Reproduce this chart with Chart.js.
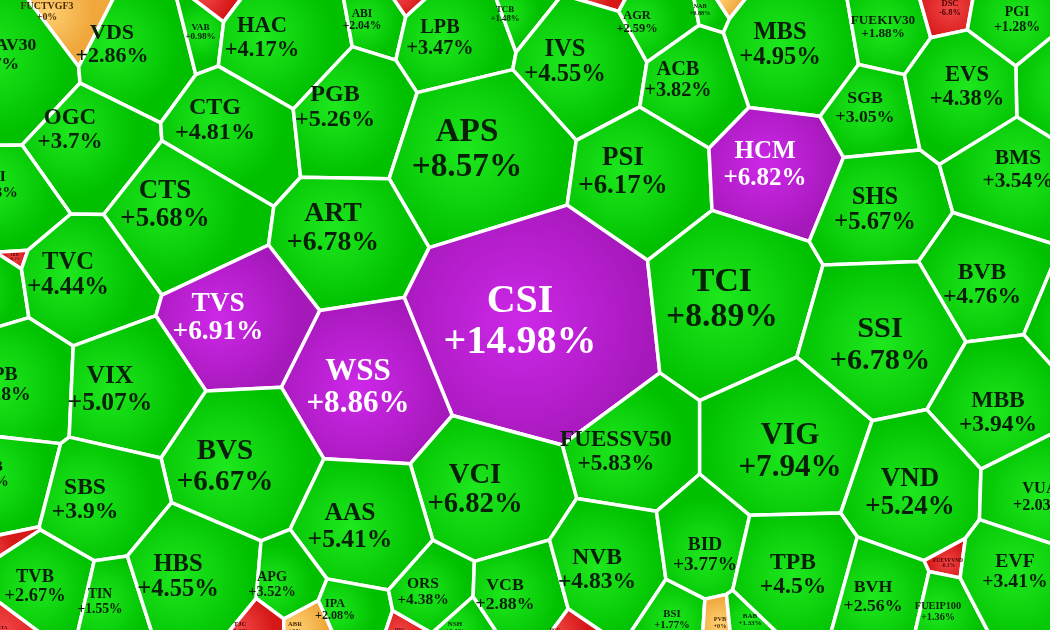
<!DOCTYPE html>
<html>
<head>
<meta charset="utf-8">
<script src="https://cdn.jsdelivr.net/npm/chart.js@4.4.1/dist/chart.umd.min.js"></script>
<style>
  html, body { margin: 0; padding: 0; background: #fff; }
  #wrap { width: 1050px; height: 630px; position: relative; }
</style>
</head>
<body>
<div id="wrap"><canvas id="heat"></canvas></div>
<script>
// stock codes, % change, traded volume (cell weight) and layout seeds
const codes = [
  'FUCTVGF3','FUEMAV30','VDS','VAB','DIG','HAC','ABI','TCH','LPB','TCB',
  'FPT','IVS','AGR','NAB','VRE','MBS','FUEKIV30','DSC','PGI','HPG',
  'OGC','CTG','PGB','APS','ACB','PSI','HCM','SGB','EVS','TVI',
  'HHS','PVC','CTS','ART','TVC','TVS','CSI','TCI','SHS','BMS',
  'BVB','VGC','SSI','MBB','VPB','VIX','WSS','FUESSV50','VIG','SHB',
  'BVS','VCI','VND','VUA','SBS','AAS','PVS','TVB','ITA','TIN',
  'HBS','APG','TJC','ABR','IPA','HDG','ORS','NSH','VCB','BCG',
  'NVB','BID','BSI','PVB','BAB','TPB','BVH','FUEVFVND','FUEIP100','EVF'
];
const changes = [
  0, 1.67, 2.86, 0.98, -0.5, 4.17, 2.04, -0.4, 3.47, 1.48,
  -0.3, 4.55, 2.59, 0.88, 0, 4.95, 1.88, -6.8, 1.28, 2.1,
  3.7, 4.81, 5.26, 8.57, 3.82, 6.17, 6.82, 3.05, 4.38, 2.83,
  -0.5, 1.9, 5.68, 6.78, 4.44, 6.91, 14.98, 8.89, 5.67, 3.54,
  4.76, 2.5, 6.78, 3.94, 2.28, 5.07, 8.86, 5.83, 7.94, 2.9,
  6.67, 6.82, 5.24, 2.03, 3.9, 5.41, -0.8, 2.67, -1, 1.55,
  4.55, 3.52, -1.2, 0, 2.08, -0.6, 4.38, 1.1, 2.88, -0.5,
  4.83, 3.77, 1.77, 0, 1.33, 4.5, 2.56, -0.3, 1.36, 3.41
];
const volume = [
  2800, 8000, 10000, 2200, 500, 10500, 2800, 250, 8500, 1600,
  250, 12500, 3200, 800, 250, 12500, 4800, 1500, 4000, 2500,
  11000, 12000, 12000, 23000, 8500, 15000, 13000, 6500, 10500, 5000,
  300, 1500, 15000, 16000, 12500, 15500, 43500, 23500, 12500, 9500,
  11500, 1200, 19000, 11500, 8000, 13500, 20000, 13000, 20000, 4500,
  17500, 17000, 15000, 5500, 11500, 13500, 500, 7000, 500, 3800,
  12500, 4200, 1000, 900, 3000, 400, 5000, 1000, 6500, 500,
  11500, 8000, 2400, 800, 1000, 11500, 6500, 900, 2800, 8000
];
const seedX = [
  47, -10, 112, 180, 205, 262, 362, 400, 440, 505,
  585, 565, 637, 700, 720, 780, 883, 950, 1017, 1070,
  70, 215, 335, 467, 678, 623, 765, 865, 967, -8,
  -4, -30, 165, 333, 68, 218, 520, 722, 875, 1018,
  982, 1090, 880, 998, -2, 110, 358, 616, 790, -12,
  225, 475, 910, 1040, 85, 350, 0, 35, 3, 100,
  178, 272, 240, 295, 335, 400, 423, 455, 505, 555,
  597, 705, 672, 720, 750, 793, 873, 948, 938, 1015
];
const seedY = [
  12, 55, 45, 28, -5, 38, 20, -6, 38, 14,
  -6, 62, 22, 10, -3, 45, 27, 8, 20, 85,
  130, 120, 107, 150, 80, 172, 165, 108, 87, 185,
  250, 290, 205, 228, 275, 318, 322, 300, 210, 170,
  285, 330, 345, 413, 385, 390, 388, 452, 452, 475,
  467, 490, 493, 497, 500, 527, 533, 587, 630, 602,
  577, 585, 628, 628, 610, 632, 592, 628, 595, 632,
  570, 555, 620, 623, 620, 575, 597, 563, 612, 572
];
// codes that hit the ceiling price (purple)
const ceilingCodes = ['CSI', 'WSS', 'TVS', 'HCM'];

function clipHalf(poly, ax, ay, c) {
  const out = [];
  for (let k = 0; k < poly.length; k++) {
    const p = poly[k], q = poly[(k + 1) % poly.length];
    const dp = ax * p[0] + ay * p[1] - c;
    const dq = ax * q[0] + ay * q[1] - c;
    if (dp <= 0) out.push(p);
    if ((dp < 0 && dq > 0) || (dp > 0 && dq < 0)) {
      const t = dp / (dp - dq);
      out.push([p[0] + t * (q[0] - p[0]), p[1] + t * (q[1] - p[1])]);
    }
  }
  return out;
}

function powerCells(pts, w, box) {
  return pts.map((s, i) => {
    let poly = box.slice();
    for (let j = 0; j < pts.length && poly.length; j++) {
      if (j === i) continue;
      const t = pts[j];
      const ax = t[0] - s[0], ay = t[1] - s[1];
      if (ax === 0 && ay === 0) continue;
      const c = (t[0] * t[0] + t[1] * t[1] - s[0] * s[0] - s[1] * s[1] - w[j] + w[i]) / 2;
      poly = clipHalf(poly, ax, ay, c);
    }
    return poly;
  });
}

function clipRect(poly, a) {
  let p = clipHalf(poly, -1, 0, -a.left);
  p = clipHalf(p, 1, 0, a.right);
  p = clipHalf(p, 0, -1, -a.top);
  return clipHalf(p, 0, 1, a.bottom);
}

function area(poly) {
  let s = 0;
  for (let k = 0; k < poly.length; k++) {
    const p = poly[k], q = poly[(k + 1) % poly.length];
    s += p[0] * q[1] - q[0] * p[1];
  }
  return Math.abs(s) / 2;
}

function centroid(poly) {
  let cx = 0, cy = 0, s = 0;
  for (let k = 0; k < poly.length; k++) {
    const p = poly[k], q = poly[(k + 1) % poly.length];
    const f = p[0] * q[1] - q[0] * p[1];
    s += f; cx += (p[0] + q[0]) * f; cy += (p[1] + q[1]) * f;
  }
  if (Math.abs(s) < 1e-9) return poly[0] || [0, 0];
  return [cx / (3 * s), cy / (3 * s)];
}

function inside(poly, pt) {
  let sign = 0;
  for (let k = 0; k < poly.length; k++) {
    const p = poly[k], q = poly[(k + 1) % poly.length];
    const cr = (q[0] - p[0]) * (pt[1] - p[1]) - (q[1] - p[1]) * (pt[0] - p[0]);
    if (cr !== 0) {
      const sg = cr > 0 ? 1 : -1;
      if (sign === 0) sign = sg; else if (sg !== sign) return false;
    }
  }
  return true;
}

function chord(poly, yy) {
  let lo = Infinity, hi = -Infinity;
  for (let k = 0; k < poly.length; k++) {
    const p = poly[k], q = poly[(k + 1) % poly.length];
    if ((p[1] - yy) * (q[1] - yy) <= 0 && p[1] !== q[1]) {
      const xx = p[0] + (yy - p[1]) / (q[1] - p[1]) * (q[0] - p[0]);
      lo = Math.min(lo, xx); hi = Math.max(hi, xx);
    }
  }
  return hi > lo ? hi - lo : 0;
}

function palette(code, v) {
  if (ceilingCodes.includes(code)) return ['rgb(205,40,232)', 'rgb(165,24,186)', '#ffffff'];
  if (v < 0) return ['rgb(242,70,70)', 'rgb(214,24,24)', '#4a0000'];
  if (v === 0) return ['rgb(255,208,115)', 'rgb(240,168,60)', '#4a2a00'];
  return ['rgb(30,232,30)', 'rgb(0,192,0)', '#072007'];
}

const voronoiPlugin = {
  id: 'voronoiCells',
  beforeDatasetsDraw(chart) {
    const { ctx, chartArea: a, scales: { x, y } } = chart;
    const pts = chart.data.datasets[0].data.map(d => [x.getPixelForValue(d.x), y.getPixelForValue(d.y)]);
    const L = x.getPixelForValue(-45), R = x.getPixelForValue(1095);
    const T = y.getPixelForValue(-20), B = y.getPixelForValue(655);
    const box = [[L, T], [R, T], [R, B], [L, B]];
    const total = volume.reduce((s, v) => s + v, 0);
    const canvasArea = (a.right - a.left) * (a.bottom - a.top);
    const target = volume.map(v => v / total * canvasArea);
    const w = pts.map(() => 0);
    for (let it = 0; it < 260; it++) {
      const polys = powerCells(pts, w, box);
      polys.forEach((p, i) => {
        const A = p.length ? area(clipRect(p, a)) : 0;
        w[i] += 0.45 * (target[i] - A);
      });
    }
    const polys = powerCells(pts, w, box);

    ctx.save();
    ctx.beginPath();
    ctx.rect(a.left, a.top, a.right - a.left, a.bottom - a.top);
    ctx.clip();
    ctx.fillStyle = '#ffffff';
    ctx.fillRect(a.left, a.top, a.right - a.left, a.bottom - a.top);

    const labels = [];
    polys.forEach((p, i) => {
      if (p.length < 3) return;
      const full = area(p);
      const lp = inside(p, pts[i]) ? pts[i] : centroid(p);
      const col = palette(codes[i], changes[i]);
      const r = Math.sqrt(full / Math.PI) * 1.15;
      const g = ctx.createRadialGradient(lp[0], lp[1], 0, lp[0], lp[1], r);
      g.addColorStop(0, col[0]);
      g.addColorStop(1, col[1]);
      ctx.beginPath();
      ctx.moveTo(p[0][0], p[0][1]);
      for (let k = 1; k < p.length; k++) ctx.lineTo(p[k][0], p[k][1]);
      ctx.closePath();
      ctx.fillStyle = g;
      ctx.fill();
      ctx.lineWidth = 3.5;
      ctx.strokeStyle = '#ffffff';
      ctx.lineJoin = 'round';
      ctx.stroke();
      labels.push({ i, p, lp, col });
    });

    ctx.textAlign = 'center';
    ctx.textBaseline = 'middle';
    labels.forEach(({ i, p, lp, col }) => {
      const v = changes[i];
      const l1 = codes[i];
      const l2 = (v >= 0 ? '+' : '') + v + '%';
      let f = Math.min(40, 0.205 * Math.sqrt(volume[i] * 1.15));
      ctx.font = 'bold ' + f + 'px "Liberation Serif", "Times New Roman", serif';
      const tw = Math.max(ctx.measureText(l1).width, ctx.measureText(l2).width);
      const cw = Math.min(chord(p, lp[1] - 0.5 * f), chord(p, lp[1] + 0.5 * f)) * 0.86;
      if (cw > 0 && tw > cw) f = Math.max(4, f * cw / tw);
      ctx.font = 'bold ' + f + 'px "Liberation Serif", "Times New Roman", serif';
      ctx.fillStyle = col[2];
      ctx.fillText(l1, lp[0], lp[1] - 0.52 * f);
      ctx.fillText(l2, lp[0], lp[1] + 0.52 * f);
    });
    ctx.restore();
  }
};

const ctx = document.getElementById('heat').getContext('2d');
const heatChart = new Chart(ctx, {
  type: 'scatter',
  data: {
    datasets: [{
      label: 'Biến động',
      data: codes.map((c, i) => ({ x: seedX[i], y: seedY[i] })),
      pointRadius: 0,
      pointHoverRadius: 0
    }]
  },
  options: {
    animation: false,
    responsive: true,
    maintainAspectRatio: false,
    layout: { padding: 0 },
    plugins: { legend: { display: false }, tooltip: { enabled: false } },
    scales: {
      x: { type: 'linear', min: 0, max: 1050, display: false },
      y: { type: 'linear', min: 0, max: 630, reverse: true, display: false }
    }
  },
  plugins: [voronoiPlugin]
});
</script>
</body>
</html>
